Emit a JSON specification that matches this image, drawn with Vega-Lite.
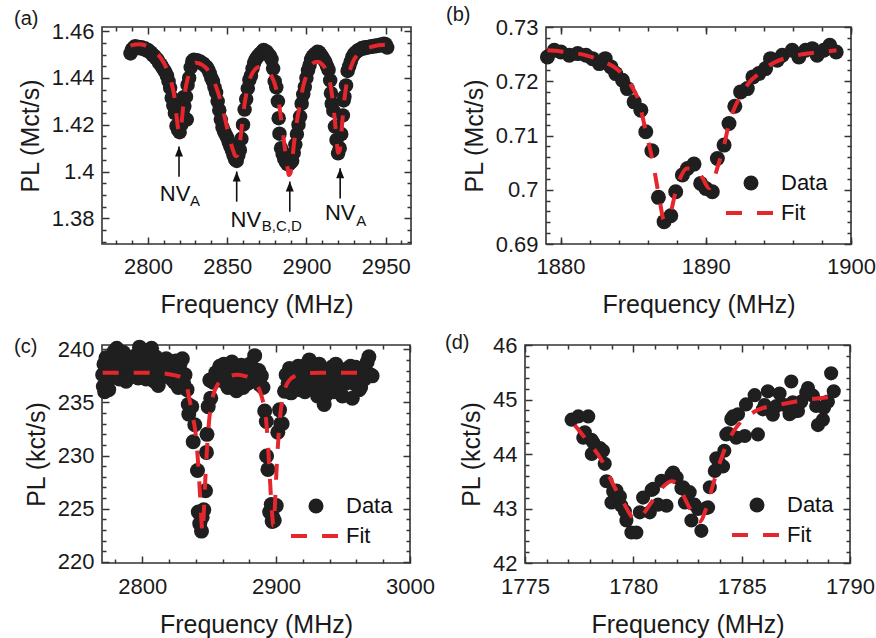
{
"$schema": "https://vega.github.io/schema/vega-lite/v6.json",
"background": "white",
"padding": {"left": 13, "top": 4, "right": 0, "bottom": 0},
"config": {
  "font": "Liberation Sans",
  "view": {"stroke": "#333333", "strokeWidth": 1.6},
  "axis": {"grid": false, "domain": false, "labelFontSize": 22, "titleFontSize": 25, "titleFontWeight": "normal", "labelColor": "#1a1a1a", "titleColor": "#1a1a1a", "tickColor": "#333333", "tickWidth": 1.5, "labelFlush": false, "labelOverlap": false, "labelFont": "Liberation Sans", "titleFont": "Liberation Sans"},
  "legend": {"labelFont": "Liberation Sans", "labelFontSize": 22, "labelColor": "#111111", "padding": 0, "title": null},
  "title": {"fontSize": 20, "fontWeight": "normal", "anchor": "start", "frame": "group", "color": "#1a1a1a", "offset": -9}
},
"datasets": {
  "a_data": [{"f":2789,"p":1.4505},{"f":2790,"p":1.4522},{"f":2791,"p":1.453},{"f":2792,"p":1.4536},{"f":2793,"p":1.4528},{"f":2794,"p":1.4533},{"f":2795,"p":1.4527},{"f":2796,"p":1.4531},{"f":2797,"p":1.4524},{"f":2798,"p":1.4527},{"f":2799,"p":1.4518},{"f":2800,"p":1.452},{"f":2801,"p":1.4512},{"f":2802,"p":1.4508},{"f":2803,"p":1.4498},{"f":2804,"p":1.4494},{"f":2805,"p":1.4485},{"f":2806,"p":1.4478},{"f":2807,"p":1.4465},{"f":2808,"p":1.4458},{"f":2809,"p":1.4446},{"f":2810,"p":1.4436},{"f":2811,"p":1.4425},{"f":2812,"p":1.441},{"f":2813,"p":1.4385},{"f":2814,"p":1.4358},{"f":2815,"p":1.4315},{"f":2816,"p":1.4282},{"f":2817,"p":1.425},{"f":2818,"p":1.4195},{"f":2819,"p":1.4178},{"f":2820,"p":1.4168},{"f":2821,"p":1.42},{"f":2822,"p":1.4262},{"f":2822.5,"p":1.4318},{"f":2823,"p":1.428},{"f":2824,"p":1.432},{"f":2824.5,"p":1.4222},{"f":2825,"p":1.437},{"f":2826,"p":1.44},{"f":2827,"p":1.4445},{"f":2828,"p":1.4472},{"f":2829,"p":1.4478},{"f":2830,"p":1.4474},{"f":2831,"p":1.4476},{"f":2832,"p":1.4468},{"f":2833,"p":1.447},{"f":2834,"p":1.4462},{"f":2835,"p":1.4461},{"f":2836,"p":1.4452},{"f":2837,"p":1.4447},{"f":2838,"p":1.4436},{"f":2839,"p":1.442},{"f":2840,"p":1.44},{"f":2841,"p":1.4385},{"f":2842,"p":1.436},{"f":2843,"p":1.4338},{"f":2844,"p":1.43},{"f":2845,"p":1.4262},{"f":2846,"p":1.4222},{"f":2847,"p":1.419},{"f":2848,"p":1.4172},{"f":2849,"p":1.4158},{"f":2850,"p":1.4145},{"f":2851,"p":1.4125},{"f":2852,"p":1.4108},{"f":2853,"p":1.409},{"f":2854,"p":1.407},{"f":2855,"p":1.4052},{"f":2856,"p":1.4045},{"f":2857,"p":1.4068},{"f":2858,"p":1.4092},{"f":2859,"p":1.414},{"f":2860,"p":1.42},{"f":2861,"p":1.4265},{"f":2862,"p":1.431},{"f":2863,"p":1.4355},{"f":2864,"p":1.4392},{"f":2865,"p":1.441},{"f":2866,"p":1.444},{"f":2867,"p":1.4465},{"f":2868,"p":1.448},{"f":2869,"p":1.449},{"f":2870,"p":1.4498},{"f":2871,"p":1.4505},{"f":2872,"p":1.4512},{"f":2873,"p":1.452},{"f":2874,"p":1.4508},{"f":2875,"p":1.4512},{"f":2876,"p":1.45},{"f":2877,"p":1.4495},{"f":2878,"p":1.448},{"f":2879,"p":1.444},{"f":2880,"p":1.4385},{"f":2881,"p":1.436},{"f":2882,"p":1.43},{"f":2882.5,"p":1.4228},{"f":2883,"p":1.4162},{"f":2884,"p":1.41},{"f":2885,"p":1.4075},{"f":2886,"p":1.4055},{"f":2887,"p":1.4042},{"f":2888,"p":1.4032},{"f":2889,"p":1.403},{"f":2890,"p":1.4038},{"f":2891,"p":1.4046},{"f":2892,"p":1.408},{"f":2893,"p":1.4115},{"f":2894,"p":1.416},{"f":2895,"p":1.42},{"f":2896,"p":1.4235},{"f":2897,"p":1.429},{"f":2898,"p":1.433},{"f":2899,"p":1.4362},{"f":2900,"p":1.44},{"f":2901,"p":1.4432},{"f":2902,"p":1.4455},{"f":2903,"p":1.448},{"f":2904,"p":1.4492},{"f":2905,"p":1.45},{"f":2906,"p":1.4505},{"f":2907,"p":1.4512},{"f":2908,"p":1.451},{"f":2909,"p":1.45},{"f":2910,"p":1.449},{"f":2911,"p":1.4478},{"f":2912,"p":1.4468},{"f":2913,"p":1.445},{"f":2914,"p":1.4435},{"f":2915,"p":1.439},{"f":2915.5,"p":1.4335},{"f":2916,"p":1.429},{"f":2917,"p":1.426},{"f":2918,"p":1.4192},{"f":2919,"p":1.4135},{"f":2920,"p":1.4078},{"f":2921,"p":1.41},{"f":2922,"p":1.416},{"f":2923,"p":1.424},{"f":2923.5,"p":1.4304},{"f":2924,"p":1.432},{"f":2925,"p":1.4368},{"f":2926,"p":1.443},{"f":2927,"p":1.445},{"f":2928,"p":1.447},{"f":2929,"p":1.449},{"f":2930,"p":1.4502},{"f":2931,"p":1.4508},{"f":2932,"p":1.4515},{"f":2933,"p":1.452},{"f":2934,"p":1.4522},{"f":2935,"p":1.4528},{"f":2936,"p":1.4526},{"f":2937,"p":1.4531},{"f":2938,"p":1.4529},{"f":2939,"p":1.4533},{"f":2940,"p":1.4532},{"f":2941,"p":1.4536},{"f":2942,"p":1.4534},{"f":2943,"p":1.4538},{"f":2944,"p":1.4536},{"f":2945,"p":1.454},{"f":2946,"p":1.4538},{"f":2947,"p":1.4543},{"f":2948,"p":1.454},{"f":2949,"p":1.4546},{"f":2950,"p":1.4544},{"f":2951,"p":1.453}],
  "a_fit": [{"f":2789,"p":1.4538},{"f":2792,"p":1.4543},{"f":2795,"p":1.4544},{"f":2798,"p":1.454},{"f":2801,"p":1.453},{"f":2804,"p":1.4515},{"f":2807,"p":1.4495},{"f":2810,"p":1.4465},{"f":2812,"p":1.4437},{"f":2814,"p":1.44},{"f":2815,"p":1.4375},{"f":2816,"p":1.4345},{"f":2817,"p":1.4305},{"f":2818,"p":1.424},{"f":2819,"p":1.4185},{"f":2820,"p":1.4165},{"f":2821,"p":1.4195},{"f":2822,"p":1.4262},{"f":2823,"p":1.432},{"f":2824,"p":1.4365},{"f":2825,"p":1.4395},{"f":2826,"p":1.442},{"f":2828,"p":1.4452},{"f":2830,"p":1.4465},{"f":2832,"p":1.4463},{"f":2834,"p":1.4457},{"f":2836,"p":1.4447},{"f":2838,"p":1.4432},{"f":2840,"p":1.441},{"f":2842,"p":1.438},{"f":2844,"p":1.4343},{"f":2846,"p":1.4298},{"f":2848,"p":1.4245},{"f":2850,"p":1.4185},{"f":2852,"p":1.4128},{"f":2854,"p":1.4085},{"f":2855,"p":1.4068},{"f":2856,"p":1.4065},{"f":2857,"p":1.4085},{"f":2858,"p":1.4125},{"f":2859,"p":1.418},{"f":2860,"p":1.424},{"f":2861,"p":1.429},{"f":2862,"p":1.433},{"f":2864,"p":1.439},{"f":2866,"p":1.4422},{"f":2868,"p":1.444},{"f":2870,"p":1.4447},{"f":2872,"p":1.4448},{"f":2874,"p":1.4443},{"f":2876,"p":1.443},{"f":2878,"p":1.4408},{"f":2880,"p":1.4375},{"f":2882,"p":1.432},{"f":2884,"p":1.4225},{"f":2886,"p":1.412},{"f":2887,"p":1.407},{"f":2888,"p":1.402},{"f":2889,"p":1.3985},{"f":2890,"p":1.3995},{"f":2891,"p":1.4045},{"f":2892,"p":1.411},{"f":2893,"p":1.4165},{"f":2894,"p":1.4215},{"f":2896,"p":1.429},{"f":2898,"p":1.4365},{"f":2900,"p":1.441},{"f":2902,"p":1.4445},{"f":2904,"p":1.4462},{"f":2906,"p":1.4468},{"f":2908,"p":1.4468},{"f":2910,"p":1.4458},{"f":2912,"p":1.444},{"f":2914,"p":1.4405},{"f":2915,"p":1.4375},{"f":2916,"p":1.4335},{"f":2917,"p":1.428},{"f":2918,"p":1.4215},{"f":2919,"p":1.414},{"f":2920,"p":1.408},{"f":2921,"p":1.409},{"f":2922,"p":1.416},{"f":2923,"p":1.424},{"f":2924,"p":1.431},{"f":2925,"p":1.436},{"f":2926,"p":1.4395},{"f":2928,"p":1.4445},{"f":2930,"p":1.4478},{"f":2932,"p":1.4497},{"f":2935,"p":1.4515},{"f":2938,"p":1.4526},{"f":2941,"p":1.4533},{"f":2944,"p":1.4538},{"f":2947,"p":1.4541},{"f":2951,"p":1.4543}],
  "a_arrows": [{"f":2819.6,"y1":1.3978,"y2":1.4107},{"f":2856.0,"y1":1.3871,"y2":1.4},{"f":2889.5,"y1":1.3828,"y2":1.3957},{"f":2921.3,"y1":1.3885,"y2":1.4014}],
  "a_main": [{"f":2807.5,"p":1.3873,"t":"NV"},{"f":2852.1,"p":1.3764,"t":"NV"},{"f":2911.7,"p":1.3793,"t":"NV"}],
  "a_sub": [{"f":2826.6,"p":1.3854,"t":"A"},{"f":2871.8,"p":1.3747,"t":"B,C,D"},{"f":2931.5,"p":1.3768,"t":"A"}],
  "b_data": [{"f":1879.1,"p":0.72448},{"f":1879.57,"p":0.72571},{"f":1880.03,"p":0.7254},{"f":1880.6,"p":0.72479},{"f":1881.18,"p":0.7251},{"f":1881.75,"p":0.72479},{"f":1882.2,"p":0.72417},{"f":1882.67,"p":0.72325},{"f":1883.08,"p":0.72417},{"f":1883.47,"p":0.72264},{"f":1883.8,"p":0.72141},{"f":1884.27,"p":0.72019},{"f":1884.6,"p":0.71865},{"f":1885.07,"p":0.7162},{"f":1885.53,"p":0.71467},{"f":1885.87,"p":0.71068},{"f":1886.29,"p":0.70718},{"f":1886.74,"p":0.6986},{"f":1887.13,"p":0.69412},{"f":1887.59,"p":0.69522},{"f":1887.93,"p":0.69964},{"f":1888.39,"p":0.70271},{"f":1888.74,"p":0.70393},{"f":1889.19,"p":0.70473},{"f":1889.65,"p":0.70117},{"f":1890.0,"p":0.70025},{"f":1890.45,"p":0.69964},{"f":1890.8,"p":0.70577},{"f":1891.26,"p":0.70823},{"f":1891.6,"p":0.71221},{"f":1892.0,"p":0.7154},{"f":1892.4,"p":0.71804},{"f":1892.86,"p":0.71865},{"f":1893.25,"p":0.7208},{"f":1893.66,"p":0.72141},{"f":1894.12,"p":0.72233},{"f":1894.46,"p":0.72417},{"f":1894.92,"p":0.72387},{"f":1895.27,"p":0.72479},{"f":1895.95,"p":0.72571},{"f":1896.41,"p":0.72448},{"f":1896.87,"p":0.72571},{"f":1897.33,"p":0.72601},{"f":1897.67,"p":0.72479},{"f":1898.13,"p":0.72571},{"f":1898.54,"p":0.72663},{"f":1898.98,"p":0.7254}],
  "b_fit": [{"f":1879.1,"p":0.7257},{"f":1880,"p":0.7255},{"f":1881,"p":0.7252},{"f":1882,"p":0.7246},{"f":1883,"p":0.7236},{"f":1884,"p":0.722},{"f":1884.8,"p":0.7195},{"f":1885.4,"p":0.7162},{"f":1885.87,"p":0.7108},{"f":1886.33,"p":0.7055},{"f":1886.8,"p":0.6985},{"f":1887.13,"p":0.6944},{"f":1887.5,"p":0.6952},{"f":1887.9,"p":0.6993},{"f":1888.3,"p":0.7025},{"f":1888.7,"p":0.7039},{"f":1889.2,"p":0.7039},{"f":1889.77,"p":0.7022},{"f":1890.23,"p":0.7003},{"f":1890.57,"p":0.7021},{"f":1890.85,"p":0.7045},{"f":1891.26,"p":0.7082},{"f":1891.6,"p":0.7122},{"f":1892.0,"p":0.7152},{"f":1892.5,"p":0.7177},{"f":1893.0,"p":0.7198},{"f":1893.66,"p":0.7214},{"f":1894.3,"p":0.7228},{"f":1895,"p":0.7238},{"f":1896,"p":0.7246},{"f":1897,"p":0.7251},{"f":1898,"p":0.7254},{"f":1899,"p":0.7257}],
  "c_data": [{"f":2770.5,"p":237.6},{"f":2771,"p":236.5},{"f":2771.5,"p":238.6},{"f":2772,"p":236.0},{"f":2773,"p":239.2},{"f":2774,"p":237.0},{"f":2775,"p":236.2},{"f":2776,"p":238.3},{"f":2777,"p":239.0},{"f":2778,"p":237.5},{"f":2779,"p":239.8},{"f":2780,"p":238.2},{"f":2781,"p":240.1},{"f":2782,"p":238.7},{"f":2783,"p":237.2},{"f":2784,"p":239.4},{"f":2785,"p":238.0},{"f":2786,"p":239.7},{"f":2787,"p":238.4},{"f":2788,"p":237.0},{"f":2789,"p":239.2},{"f":2790,"p":238.6},{"f":2791,"p":237.6},{"f":2792,"p":239.0},{"f":2793,"p":238.1},{"f":2794,"p":237.7},{"f":2795,"p":239.4},{"f":2796,"p":238.5},{"f":2797,"p":237.3},{"f":2798,"p":240.2},{"f":2799,"p":238.8},{"f":2800,"p":237.4},{"f":2801,"p":239.6},{"f":2802,"p":238.2},{"f":2803,"p":237.2},{"f":2804,"p":239.9},{"f":2805,"p":238.6},{"f":2806,"p":237.9},{"f":2807,"p":240.1},{"f":2808,"p":238.3},{"f":2809,"p":237.0},{"f":2810,"p":239.3},{"f":2811,"p":238.6},{"f":2812,"p":236.6},{"f":2813,"p":238.0},{"f":2814,"p":239.0},{"f":2815,"p":237.4},{"f":2816,"p":238.6},{"f":2817,"p":237.9},{"f":2818,"p":239.1},{"f":2819,"p":238.3},{"f":2820,"p":237.5},{"f":2821,"p":238.8},{"f":2822,"p":237.2},{"f":2823,"p":238.4},{"f":2824,"p":236.9},{"f":2825,"p":238.9},{"f":2826,"p":237.8},{"f":2827,"p":236.4},{"f":2828,"p":238.5},{"f":2829,"p":237.4},{"f":2830,"p":239.1},{"f":2831,"p":236.8},{"f":2832,"p":237.6},{"f":2833.5,"p":236.2},{"f":2834.4,"p":234.8},{"f":2834.8,"p":233.9},{"f":2837.0,"p":234.6},{"f":2838.1,"p":231.3},{"f":2839.3,"p":232.9},{"f":2841.3,"p":228.6},{"f":2841.9,"p":224.7},{"f":2843.0,"p":223.6},{"f":2844.3,"p":222.9},{"f":2844.8,"p":224.2},{"f":2846.0,"p":224.9},{"f":2847.3,"p":226.7},{"f":2848.0,"p":230.3},{"f":2848.4,"p":232.0},{"f":2849.3,"p":234.6},{"f":2850.5,"p":237.1},{"f":2851.2,"p":235.4},{"f":2853.0,"p":236.9},{"f":2855,"p":237.8},{"f":2857.9,"p":238.4},{"f":2859.5,"p":237.4},{"f":2861,"p":238.6},{"f":2861.7,"p":236.9},{"f":2863,"p":237.9},{"f":2864,"p":236.4},{"f":2865.5,"p":237.8},{"f":2867,"p":238.8},{"f":2868,"p":236.8},{"f":2869,"p":237.6},{"f":2870.4,"p":236.1},{"f":2871.5,"p":238.2},{"f":2873,"p":237.0},{"f":2874,"p":238.5},{"f":2875.4,"p":236.4},{"f":2876.5,"p":237.6},{"f":2878,"p":238.0},{"f":2879,"p":236.8},{"f":2880.3,"p":238.6},{"f":2881.5,"p":237.3},{"f":2883,"p":238.2},{"f":2884,"p":239.4},{"f":2885.5,"p":237.0},{"f":2887,"p":238.0},{"f":2887.6,"p":236.7},{"f":2889,"p":237.5},{"f":2890.2,"p":236.4},{"f":2891.5,"p":234.2},{"f":2892.7,"p":233.2},{"f":2892.9,"p":229.96},{"f":2893.9,"p":228.7},{"f":2895.2,"p":224.7},{"f":2896.4,"p":225.4},{"f":2897.1,"p":223.8},{"f":2897.6,"p":224.2},{"f":2898.6,"p":223.9},{"f":2900.1,"p":225.3},{"f":2901.3,"p":232.2},{"f":2902.6,"p":234.3},{"f":2903.5,"p":233.0},{"f":2904.5,"p":233.0},{"f":2906.3,"p":236.05},{"f":2907.5,"p":237.6},{"f":2909,"p":236.8},{"f":2910,"p":238.2},{"f":2911.2,"p":235.9},{"f":2912.4,"p":236.6},{"f":2913.5,"p":237.8},{"f":2915,"p":237.0},{"f":2916.5,"p":238.4},{"f":2918,"p":236.2},{"f":2918.5,"p":238.0},{"f":2920,"p":237.2},{"f":2921.5,"p":236.0},{"f":2923,"p":238.6},{"f":2924.3,"p":237.0},{"f":2924.8,"p":239.0},{"f":2926,"p":236.4},{"f":2927.5,"p":238.2},{"f":2928.4,"p":236.3},{"f":2929.5,"p":237.4},{"f":2931,"p":235.6},{"f":2932.2,"p":238.6},{"f":2933.5,"p":236.8},{"f":2935,"p":237.9},{"f":2935.9,"p":234.8},{"f":2936.8,"p":235.6},{"f":2938,"p":236.4},{"f":2939,"p":237.6},{"f":2940.8,"p":237.0},{"f":2941.5,"p":238.3},{"f":2943,"p":236.0},{"f":2944.6,"p":238.6},{"f":2946,"p":237.2},{"f":2947.5,"p":236.4},{"f":2949.5,"p":235.6},{"f":2950.5,"p":237.8},{"f":2952,"p":236.8},{"f":2953.5,"p":238.2},{"f":2955,"p":237.1},{"f":2955.6,"p":238.4},{"f":2956.9,"p":235.4},{"f":2958,"p":236.8},{"f":2959.4,"p":238.3},{"f":2960.5,"p":237.0},{"f":2962,"p":236.2},{"f":2963.1,"p":236.4},{"f":2964.5,"p":238.0},{"f":2966,"p":237.2},{"f":2966.8,"p":238.0},{"f":2968,"p":238.8},{"f":2969.3,"p":239.3},{"f":2970.4,"p":237.6},{"f":2971.7,"p":237.5}],
  "c_fit": [{"f":2770.5,"p":237.8},{"f":2800,"p":237.8},{"f":2815,"p":237.75},{"f":2822,"p":237.6},{"f":2826,"p":237.5},{"f":2829,"p":237.35},{"f":2831,"p":237.15},{"f":2833.5,"p":236.4},{"f":2835.9,"p":234.9},{"f":2838,"p":233.5},{"f":2839.6,"p":232.4},{"f":2841.6,"p":229.6},{"f":2843.3,"p":226.1},{"f":2844.3,"p":223.8},{"f":2845,"p":222.8},{"f":2845.7,"p":223.8},{"f":2846.5,"p":226.1},{"f":2848.2,"p":230.2},{"f":2850,"p":233.3},{"f":2851.5,"p":234.8},{"f":2853.3,"p":235.8},{"f":2856,"p":236.6},{"f":2860.6,"p":237.2},{"f":2866,"p":237.5},{"f":2871,"p":237.6},{"f":2876,"p":237.5},{"f":2880.4,"p":237.3},{"f":2884,"p":236.8},{"f":2887.8,"p":236.1},{"f":2890,"p":235.2},{"f":2892.1,"p":233.9},{"f":2893.9,"p":231.1},{"f":2895.3,"p":228.0},{"f":2897.0,"p":224.6},{"f":2898.0,"p":223.4},{"f":2898.8,"p":224.4},{"f":2899.5,"p":226.4},{"f":2901,"p":230.2},{"f":2903.2,"p":233.9},{"f":2905,"p":235.5},{"f":2906.9,"p":236.4},{"f":2910,"p":237.1},{"f":2914.3,"p":237.5},{"f":2920,"p":237.7},{"f":2935,"p":237.8},{"f":2971.7,"p":237.8}],
  "d_data": [{"f":1777.15,"p":44.63},{"f":1777.46,"p":44.69},{"f":1777.69,"p":44.3},{"f":1777.76,"p":44.4},{"f":1777.92,"p":44.69},{"f":1778.07,"p":44.26},{"f":1778.08,"p":44.0},{"f":1778.15,"p":44.21},{"f":1778.46,"p":44.11},{"f":1778.6,"p":44.06},{"f":1778.68,"p":43.82},{"f":1778.76,"p":43.5},{"f":1778.99,"p":43.11},{"f":1779.07,"p":43.31},{"f":1779.22,"p":43.33},{"f":1779.38,"p":43.22},{"f":1779.45,"p":43.05},{"f":1779.61,"p":42.95},{"f":1779.68,"p":42.78},{"f":1779.91,"p":42.56},{"f":1780.14,"p":42.56},{"f":1780.3,"p":42.93},{"f":1780.45,"p":43.2},{"f":1780.76,"p":42.93},{"f":1780.84,"p":43.34},{"f":1780.91,"p":43.36},{"f":1781.14,"p":43.07},{"f":1781.3,"p":43.51},{"f":1781.53,"p":43.05},{"f":1781.76,"p":43.62},{"f":1781.84,"p":43.66},{"f":1782.0,"p":43.57},{"f":1782.22,"p":43.37},{"f":1782.3,"p":43.39},{"f":1782.38,"p":43.11},{"f":1782.53,"p":43.28},{"f":1782.6,"p":43.3},{"f":1782.68,"p":42.78},{"f":1782.83,"p":43.07},{"f":1782.99,"p":42.99},{"f":1783.14,"p":42.59},{"f":1783.37,"p":43.01},{"f":1783.45,"p":43.02},{"f":1783.53,"p":43.39},{"f":1783.76,"p":43.69},{"f":1783.83,"p":43.92},{"f":1783.95,"p":43.85},{"f":1784.14,"p":43.77},{"f":1784.2,"p":44.06},{"f":1784.29,"p":44.36},{"f":1784.37,"p":44.38},{"f":1784.52,"p":44.64},{"f":1784.6,"p":44.69},{"f":1784.75,"p":44.3},{"f":1784.83,"p":44.73},{"f":1785.14,"p":44.33},{"f":1785.2,"p":44.91},{"f":1785.6,"p":45.08},{"f":1785.75,"p":44.36},{"f":1785.98,"p":44.82},{"f":1786.06,"p":44.9},{"f":1786.21,"p":45.15},{"f":1786.44,"p":44.72},{"f":1786.6,"p":44.88},{"f":1786.75,"p":45.11},{"f":1786.98,"p":44.9},{"f":1787.21,"p":44.73},{"f":1787.29,"p":45.33},{"f":1787.36,"p":44.95},{"f":1787.44,"p":44.78},{"f":1787.6,"p":44.79},{"f":1787.75,"p":44.96},{"f":1787.98,"p":45.13},{"f":1788.06,"p":45.21},{"f":1788.29,"p":45.07},{"f":1788.44,"p":44.88},{"f":1788.52,"p":44.53},{"f":1788.75,"p":44.63},{"f":1788.8,"p":44.85},{"f":1788.98,"p":44.96},{"f":1789.13,"p":45.48},{"f":1789.25,"p":45.15}],
  "d_fit": [{"f":1777.3,"p":44.53},{"f":1777.8,"p":44.28},{"f":1778.53,"p":43.89},{"f":1779.07,"p":43.44},{"f":1779.6,"p":43.07},{"f":1779.92,"p":42.85},{"f":1780.1,"p":42.8},{"f":1780.3,"p":42.83},{"f":1780.76,"p":43.07},{"f":1781.3,"p":43.37},{"f":1781.76,"p":43.5},{"f":1782.07,"p":43.44},{"f":1782.37,"p":43.19},{"f":1782.68,"p":42.95},{"f":1783.06,"p":42.76},{"f":1783.37,"p":43.01},{"f":1783.68,"p":43.44},{"f":1784.06,"p":43.92},{"f":1784.37,"p":44.23},{"f":1784.83,"p":44.53},{"f":1785.3,"p":44.7},{"f":1785.75,"p":44.81},{"f":1786.67,"p":44.9},{"f":1787.9,"p":44.99},{"f":1789.2,"p":45.05}]
},
"vconcat": [
 {"hconcat": [
  {"width": 309, "height": 217,
   "title": {"text": "(a)", "dx": -88},
   "resolve": {"axis": {"x": "independent", "y": "independent"}},
   "layer": [
    {"data": {"name": "a_data"}, "mark": {"type": "point", "filled": true, "size": 210, "opacity": 1, "color": "#1f1f1f"},
     "encoding": {
      "x": {"field": "f", "type": "quantitative", "scale": {"domain": [2771, 2966], "nice": false, "zero": false}, "axis": {"orient": "bottom", "values": [2800, 2850, 2900, 2950], "tickSize": -7, "labelPadding": 19, "title": "Frequency (MHz)", "titlePadding": 15, "format": "d"}},
      "y": {"field": "p", "type": "quantitative", "scale": {"domain": [1.369, 1.4618], "nice": false, "zero": false}, "axis": {"orient": "left", "values": [1.38, 1.4, 1.42, 1.44, 1.46], "tickSize": -7, "labelPadding": 15, "title": "PL (Mct/s)", "titlePadding": 8, "format": "~g"}}}},
    {"data": {"name": "a_fit"}, "mark": {"type": "line", "color": "#e5262d", "strokeWidth": 4, "strokeDash": [16, 15], "interpolate": "monotone"},
     "encoding": {
      "x": {"field": "f", "type": "quantitative", "scale": {"domain": [2771, 2966], "nice": false, "zero": false}, "axis": {"orient": "top", "values": [2800, 2850, 2900, 2950], "tickSize": -7, "labels": false, "title": null}},
      "y": {"field": "p", "type": "quantitative", "scale": {"domain": [1.369, 1.4618], "nice": false, "zero": false}, "axis": {"orient": "right", "values": [1.38, 1.4, 1.42, 1.44, 1.46], "tickSize": -7, "labels": false, "title": null}}}},
    {"data": {"name": "a_arrows"}, "mark": {"type": "rule", "color": "#111111", "strokeWidth": 1.6},
     "encoding": {
      "x": {"field": "f", "type": "quantitative", "scale": {"domain": [2771, 2966], "nice": false, "zero": false}, "axis": {"orient": "bottom", "values": [2780, 2790, 2810, 2820, 2830, 2840, 2860, 2870, 2880, 2890, 2910, 2920, 2930, 2940, 2960], "tickSize": -4, "labels": false, "title": null}},
      "y": {"field": "y1", "type": "quantitative", "scale": {"domain": [1.369, 1.4618], "nice": false, "zero": false}, "axis": {"orient": "left", "values": [1.37, 1.375, 1.385, 1.39, 1.395, 1.405, 1.41, 1.415, 1.425, 1.43, 1.435, 1.445, 1.45, 1.455], "tickSize": -4, "labels": false, "title": null}},
      "y2": {"field": "y2"}}},
    {"data": {"name": "a_arrows"}, "mark": {"type": "point", "shape": "M0,-1L0.8,1L-0.8,1Z", "size": 100, "filled": true, "opacity": 1, "color": "#111111", "yOffset": 5},
     "encoding": {
      "x": {"field": "f", "type": "quantitative", "scale": {"domain": [2771, 2966], "nice": false, "zero": false}, "axis": {"orient": "top", "values": [2780, 2790, 2810, 2820, 2830, 2840, 2860, 2870, 2880, 2890, 2910, 2920, 2930, 2940, 2960], "tickSize": -4, "labels": false, "title": null}},
      "y": {"field": "y2", "type": "quantitative", "scale": {"domain": [1.369, 1.4618], "nice": false, "zero": false}, "axis": {"orient": "right", "values": [1.37, 1.375, 1.385, 1.39, 1.395, 1.405, 1.41, 1.415, 1.425, 1.43, 1.435, 1.445, 1.45, 1.455], "tickSize": -4, "labels": false, "title": null}}}},
    {"data": {"name": "a_main"}, "mark": {"type": "text", "align": "left", "baseline": "alphabetic", "fontSize": 22, "color": "#111111", "font": "Liberation Sans"},
     "encoding": {
      "x": {"field": "f", "type": "quantitative", "scale": {"domain": [2771, 2966], "nice": false, "zero": false}, "axis": null},
      "y": {"field": "p", "type": "quantitative", "scale": {"domain": [1.369, 1.4618], "nice": false, "zero": false}, "axis": null},
      "text": {"field": "t"}}},
    {"data": {"name": "a_sub"}, "mark": {"type": "text", "align": "left", "baseline": "alphabetic", "fontSize": 15, "color": "#111111", "font": "Liberation Sans"},
     "encoding": {
      "x": {"field": "f", "type": "quantitative", "scale": {"domain": [2771, 2966], "nice": false, "zero": false}, "axis": null},
      "y": {"field": "p", "type": "quantitative", "scale": {"domain": [1.369, 1.4618], "nice": false, "zero": false}, "axis": null},
      "text": {"field": "t"}}}
   ]},
  {"width": 305, "height": 217,
   "title": {"text": "(b)", "dx": -100},
   "resolve": {"axis": {"x": "independent", "y": "independent"}},
   "layer": [
    {"data": {"name": "b_data"}, "mark": {"type": "point", "filled": true, "size": 225, "opacity": 1, "color": "#1f1f1f"},
     "encoding": {
      "x": {"field": "f", "type": "quantitative", "scale": {"domain": [1879, 1900], "nice": false, "zero": false}, "axis": {"orient": "bottom", "values": [1880, 1890, 1900], "tickSize": -7, "labelPadding": 19, "title": "Frequency (MHz)", "titlePadding": 15, "format": "d"}},
      "y": {"field": "p", "type": "quantitative", "scale": {"domain": [0.69, 0.73], "nice": false, "zero": false}, "axis": {"orient": "left", "values": [0.69, 0.7, 0.71, 0.72, 0.73], "tickSize": -7, "labelPadding": 15, "title": "PL (Mct/s)", "titlePadding": 8, "format": "~g"}},
      "shape": {"datum": "Data", "scale": {"domain": ["Data"], "range": ["circle"]},
       "legend": {"orient": "none", "legendX": 194, "legendY": 145, "symbolSize": 225, "symbolFillColor": "#1f1f1f", "symbolStrokeWidth": 0, "symbolOpacity": 1, "labelOffset": 19}}}},
    {"data": {"name": "b_fit"}, "mark": {"type": "line", "color": "#e5262d", "strokeWidth": 4, "interpolate": "monotone"},
     "encoding": {
      "x": {"field": "f", "type": "quantitative", "scale": {"domain": [1879, 1900], "nice": false, "zero": false}, "axis": {"orient": "top", "values": [1880, 1890, 1900], "tickSize": -7, "labels": false, "title": null}},
      "y": {"field": "p", "type": "quantitative", "scale": {"domain": [0.69, 0.73], "nice": false, "zero": false}, "axis": {"orient": "right", "values": [0.69, 0.7, 0.71, 0.72, 0.73], "tickSize": -7, "labels": false, "title": null}},
      "strokeDash": {"datum": "Fit", "scale": {"domain": ["Fit"], "range": [[16, 15]]},
       "legend": {"orient": "none", "legendX": 178, "legendY": 159, "symbolType": "stroke", "symbolSize": 2500, "symbolStrokeWidth": 4, "symbolStrokeColor": "#e5262d", "labelOffset": 3}}}},
    {"data": {"name": "b_fit"}, "mark": {"type": "point", "opacity": 0},
     "encoding": {
      "x": {"field": "f", "type": "quantitative", "scale": {"domain": [1879, 1900], "nice": false, "zero": false}, "axis": {"orient": "bottom", "values": [1880, 1882, 1884, 1886, 1888, 1890, 1892, 1894, 1896, 1898, 1900], "tickSize": -4, "labels": false, "title": null}},
      "y": {"field": "p", "type": "quantitative", "scale": {"domain": [0.69, 0.73], "nice": false, "zero": false}, "axis": {"orient": "left", "values": [0.692, 0.694, 0.696, 0.698, 0.702, 0.704, 0.706, 0.708, 0.712, 0.714, 0.716, 0.718, 0.722, 0.724, 0.726, 0.728], "tickSize": -4, "labels": false, "title": null}}}},
    {"data": {"name": "b_fit"}, "mark": {"type": "point", "opacity": 0},
     "encoding": {
      "x": {"field": "f", "type": "quantitative", "scale": {"domain": [1879, 1900], "nice": false, "zero": false}, "axis": {"orient": "top", "values": [1880, 1882, 1884, 1886, 1888, 1890, 1892, 1894, 1896, 1898, 1900], "tickSize": -4, "labels": false, "title": null}},
      "y": {"field": "p", "type": "quantitative", "scale": {"domain": [0.69, 0.73], "nice": false, "zero": false}, "axis": {"orient": "right", "values": [0.692, 0.694, 0.696, 0.698, 0.702, 0.704, 0.706, 0.708, 0.712, 0.714, 0.716, 0.718, 0.722, 0.724, 0.726, 0.728], "tickSize": -4, "labels": false, "title": null}}}}
   ]}
 ], "spacing": 32, "resolve": {"scale": {"shape": "independent", "strokeDash": "independent"}, "legend": {"shape": "independent", "strokeDash": "independent"}}},
 {"hconcat": [
  {"width": 308, "height": 218,
   "title": {"text": "(c)", "dx": -88, "offset": -19},
   "resolve": {"axis": {"x": "independent", "y": "independent"}},
   "layer": [
    {"data": {"name": "c_data"}, "mark": {"type": "point", "filled": true, "size": 225, "opacity": 1, "color": "#1f1f1f"},
     "encoding": {
      "x": {"field": "f", "type": "quantitative", "scale": {"domain": [2770, 3000], "nice": false, "zero": false}, "axis": {"orient": "bottom", "values": [2800, 2900, 3000], "tickSize": -7, "labelPadding": 20, "title": "Frequency (MHz)", "titlePadding": 15, "format": "d"}},
      "y": {"field": "p", "type": "quantitative", "scale": {"domain": [219.9, 240.4], "nice": false, "zero": false}, "axis": {"orient": "left", "values": [220, 225, 230, 235, 240], "tickSize": -7, "labelPadding": 15, "title": "PL (kct/s)", "titlePadding": 8, "format": "d"}},
      "shape": {"datum": "Data", "scale": {"domain": ["Data"], "range": ["circle"]},
       "legend": {"orient": "none", "legendX": 203, "legendY": 150, "symbolSize": 225, "symbolFillColor": "#1f1f1f", "symbolStrokeWidth": 0, "symbolOpacity": 1, "labelOffset": 19}}}},
    {"data": {"name": "c_fit"}, "mark": {"type": "line", "color": "#e5262d", "strokeWidth": 4, "interpolate": "monotone"},
     "encoding": {
      "x": {"field": "f", "type": "quantitative", "scale": {"domain": [2770, 3000], "nice": false, "zero": false}, "axis": {"orient": "top", "values": [2800, 2900, 3000], "tickSize": -7, "labels": false, "title": null}},
      "y": {"field": "p", "type": "quantitative", "scale": {"domain": [219.9, 240.4], "nice": false, "zero": false}, "axis": {"orient": "right", "values": [220, 225, 230, 235, 240], "tickSize": -7, "labels": false, "title": null}},
      "strokeDash": {"datum": "Fit", "scale": {"domain": ["Fit"], "range": [[16, 15]]},
       "legend": {"orient": "none", "legendX": 187, "legendY": 164, "symbolType": "stroke", "symbolSize": 2500, "symbolStrokeWidth": 4, "symbolStrokeColor": "#e5262d", "labelOffset": 3}}}},
    {"data": {"name": "c_fit"}, "mark": {"type": "point", "opacity": 0},
     "encoding": {
      "x": {"field": "f", "type": "quantitative", "scale": {"domain": [2770, 3000], "nice": false, "zero": false}, "axis": {"orient": "bottom", "values": [2780, 2820, 2840, 2860, 2880, 2920, 2940, 2960, 2980], "tickSize": -4, "labels": false, "title": null}},
      "y": {"field": "p", "type": "quantitative", "scale": {"domain": [219.9, 240.4], "nice": false, "zero": false}, "axis": {"orient": "left", "values": [221, 222, 223, 224, 226, 227, 228, 229, 231, 232, 233, 234, 236, 237, 238, 239], "tickSize": -4, "labels": false, "title": null}}}},
    {"data": {"name": "c_fit"}, "mark": {"type": "point", "opacity": 0},
     "encoding": {
      "x": {"field": "f", "type": "quantitative", "scale": {"domain": [2770, 3000], "nice": false, "zero": false}, "axis": {"orient": "top", "values": [2780, 2820, 2840, 2860, 2880, 2920, 2940, 2960, 2980], "tickSize": -4, "labels": false, "title": null}},
      "y": {"field": "p", "type": "quantitative", "scale": {"domain": [219.9, 240.4], "nice": false, "zero": false}, "axis": {"orient": "right", "values": [221, 222, 223, 224, 226, 227, 228, 229, 231, 232, 233, 234, 236, 237, 238, 239], "tickSize": -4, "labels": false, "title": null}}}}
   ]},
  {"width": 325, "height": 218,
   "title": {"text": "(d)", "dx": -80, "offset": -19},
   "resolve": {"axis": {"x": "independent", "y": "independent"}},
   "layer": [
    {"data": {"name": "d_data"}, "mark": {"type": "point", "filled": true, "size": 200, "opacity": 1, "color": "#1f1f1f"},
     "encoding": {
      "x": {"field": "f", "type": "quantitative", "scale": {"domain": [1775, 1790], "nice": false, "zero": false}, "axis": {"orient": "bottom", "values": [1775, 1780, 1785, 1790], "tickSize": -7, "labelPadding": 20, "title": "Frequency (MHz)", "titlePadding": 15, "format": "d"}},
      "y": {"field": "p", "type": "quantitative", "scale": {"domain": [42, 46], "nice": false, "zero": false}, "axis": {"orient": "left", "values": [42, 43, 44, 45, 46], "tickSize": -7, "labelPadding": 15, "title": "PL (kct/s)", "titlePadding": 8, "format": "d"}},
      "shape": {"datum": "Data", "scale": {"domain": ["Data"], "range": ["circle"]},
       "legend": {"orient": "none", "legendX": 221, "legendY": 149, "symbolSize": 225, "symbolFillColor": "#1f1f1f", "symbolStrokeWidth": 0, "symbolOpacity": 1, "labelOffset": 19}}}},
    {"data": {"name": "d_fit"}, "mark": {"type": "line", "color": "#e5262d", "strokeWidth": 4, "interpolate": "monotone"},
     "encoding": {
      "x": {"field": "f", "type": "quantitative", "scale": {"domain": [1775, 1790], "nice": false, "zero": false}, "axis": {"orient": "top", "values": [1775, 1780, 1785, 1790], "tickSize": -7, "labels": false, "title": null}},
      "y": {"field": "p", "type": "quantitative", "scale": {"domain": [42, 46], "nice": false, "zero": false}, "axis": {"orient": "right", "values": [42, 43, 44, 45, 46], "tickSize": -7, "labels": false, "title": null}},
      "strokeDash": {"datum": "Fit", "scale": {"domain": ["Fit"], "range": [[16, 15]]},
       "legend": {"orient": "none", "legendX": 205, "legendY": 163, "symbolType": "stroke", "symbolSize": 2500, "symbolStrokeWidth": 4, "symbolStrokeColor": "#e5262d", "labelOffset": 3}}}},
    {"data": {"name": "d_fit"}, "mark": {"type": "point", "opacity": 0},
     "encoding": {
      "x": {"field": "f", "type": "quantitative", "scale": {"domain": [1775, 1790], "nice": false, "zero": false}, "axis": {"orient": "bottom", "values": [1776, 1777, 1778, 1779, 1781, 1782, 1783, 1784, 1786, 1787, 1788, 1789], "tickSize": -4, "labels": false, "title": null}},
      "y": {"field": "p", "type": "quantitative", "scale": {"domain": [42, 46], "nice": false, "zero": false}, "axis": {"orient": "left", "values": [42.2, 42.4, 42.6, 42.8, 43.2, 43.4, 43.6, 43.8, 44.2, 44.4, 44.6, 44.8, 45.2, 45.4, 45.6, 45.8], "tickSize": -4, "labels": false, "title": null}}}},
    {"data": {"name": "d_fit"}, "mark": {"type": "point", "opacity": 0},
     "encoding": {
      "x": {"field": "f", "type": "quantitative", "scale": {"domain": [1775, 1790], "nice": false, "zero": false}, "axis": {"orient": "top", "values": [1776, 1777, 1778, 1779, 1781, 1782, 1783, 1784, 1786, 1787, 1788, 1789], "tickSize": -4, "labels": false, "title": null}},
      "y": {"field": "p", "type": "quantitative", "scale": {"domain": [42, 46], "nice": false, "zero": false}, "axis": {"orient": "right", "values": [42.2, 42.4, 42.6, 42.8, 43.2, 43.4, 43.6, 43.8, 44.2, 44.4, 44.6, 44.8, 45.2, 45.4, 45.6, 45.8], "tickSize": -4, "labels": false, "title": null}}}}
   ]}
 ], "spacing": 8, "resolve": {"scale": {"shape": "independent", "strokeDash": "independent"}, "legend": {"shape": "independent", "strokeDash": "independent"}}}
],
"spacing": 14,
"resolve": {"scale": {"shape": "independent", "strokeDash": "independent"}, "legend": {"shape": "independent", "strokeDash": "independent"}}
}
